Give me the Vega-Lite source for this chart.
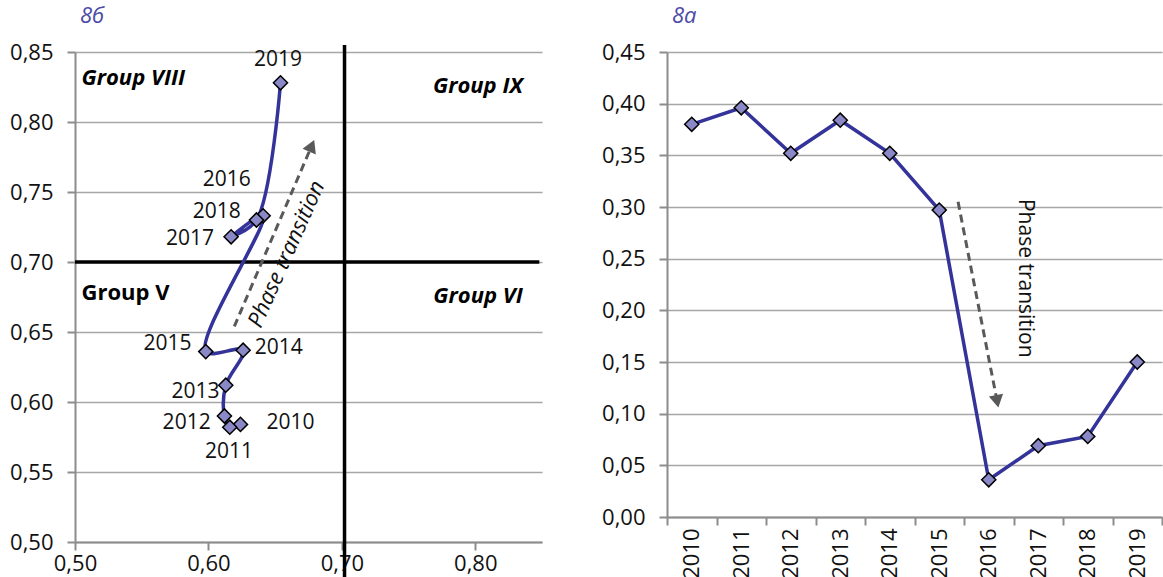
{
  "$schema": "https://vega.github.io/schema/vega-lite/v6.json",
  "background": "white",
  "padding": {"left": 9, "top": 5, "right": 0, "bottom": 0},
  "config": {
    "font": "Open Sans",
    "view": {"stroke": null},
    "axis": {
      "labelFont": "Open Sans", "labelFontSize": 22, "labelColor": "#111111",
      "domainColor": "#8c8c8c", "domainWidth": 2,
      "tickColor": "#8c8c8c", "tickWidth": 2, "tickSize": 8,
      "gridColor": "#a6a6a6", "gridWidth": 1.5,
      "title": null, "labelOverlap": false, "labelFlush": false
    },
    "title": {"font": "Open Sans", "fontSize": 22, "fontStyle": "italic", "fontWeight": "normal", "color": "#4b4ba6", "anchor": "start", "frame": "group"},
    "concat": {"spacing": 59}
  },
  "datasets": {
    "scatter": [
      {"year": 2010, "x": 0.624, "y": 0.584},
      {"year": 2011, "x": 0.616, "y": 0.582},
      {"year": 2012, "x": 0.612, "y": 0.590},
      {"year": 2013, "x": 0.613, "y": 0.612},
      {"year": 2014, "x": 0.626, "y": 0.637},
      {"year": 2015, "x": 0.598, "y": 0.636},
      {"year": 2016, "x": 0.641, "y": 0.733},
      {"year": 2017, "x": 0.617, "y": 0.718},
      {"year": 2018, "x": 0.636, "y": 0.730},
      {"year": 2019, "x": 0.654, "y": 0.828}
    ],
    "series": [
      {"year": 2010, "v": 0.380},
      {"year": 2011, "v": 0.396},
      {"year": 2012, "v": 0.352},
      {"year": 2013, "v": 0.384},
      {"year": 2014, "v": 0.352},
      {"year": 2015, "v": 0.297},
      {"year": 2016, "v": 0.036},
      {"year": 2017, "v": 0.069},
      {"year": 2018, "v": 0.078},
      {"year": 2019, "v": 0.150}
    ]
  },
  "hconcat": [
    {
      "width": 467,
      "height": 490,
      "title": {"text": "8б", "offset": 13, "dx": 5},
      "encoding": {
        "x": {"field": "x", "type": "quantitative",
          "scale": {"domain": [0.5, 0.85], "nice": false, "zero": false},
          "axis": {"values": [0.5, 0.6, 0.7, 0.8], "grid": false, "labelPadding": 3,
            "labelExpr": "replace(format(datum.value, '.2f'), '.', ',')"}},
        "y": {"field": "y", "type": "quantitative",
          "scale": {"domain": [0.5, 0.85], "nice": false, "zero": false},
          "axis": {"values": [0.5, 0.55, 0.6, 0.65, 0.7, 0.75, 0.8, 0.85], "grid": true, "labelPadding": 14,
            "labelExpr": "replace(format(datum.value, '.2f'), '.', ',')"}}
      },
      "layer": [
        {
          "data": {"values": [{"x": 0.5, "x2": 0.848, "y": 0.7}]},
          "mark": {"type": "rule", "color": "black", "strokeWidth": 3.5},
          "encoding": {"x2": {"field": "x2"}}
        },
        {
          "data": {"values": [{"x": 0.702, "y": 0.855, "y2": 0.46}]},
          "mark": {"type": "rule", "color": "black", "strokeWidth": 3.5},
          "encoding": {"y2": {"field": "y2"}}
        },
        {
          "data": {"values": [{"x": 0.6194, "y": 0.654, "x2": 0.6774, "y2": 0.783}]},
          "mark": {"type": "rule", "color": "#595959", "strokeWidth": 3, "strokeDash": [8, 5]},
          "encoding": {"x2": {"field": "x2"}, "y2": {"field": "y2"}}
        },
        {
          "data": {"values": [{"x": 0.6774, "y": 0.783}]},
          "mark": {"type": "point", "shape": "triangle-up", "filled": true, "color": "#595959", "size": 210, "angle": 23.6, "opacity": 1}
        },
        {
          "data": {"values": [{"x": 0.6585, "y": 0.7057, "t": "Phase transition"}]},
          "mark": {"type": "text", "angle": -66, "fontSize": 22, "fontStyle": "italic", "color": "#111111", "align": "center", "baseline": "middle"},
          "encoding": {"text": {"field": "t"}}
        },
        {
          "data": {"name": "scatter"},
          "mark": {"type": "line", "interpolate": "catmull-rom", "color": "#333399", "strokeWidth": 3.5},
          "encoding": {"order": {"field": "year", "type": "quantitative"}}
        },
        {
          "data": {"name": "scatter"},
          "mark": {"type": "point", "shape": "diamond", "filled": true, "fill": "#8b88c8", "stroke": "black", "strokeWidth": 1.5, "size": 200, "opacity": 1}
        },
        {"data": {"name": "scatter"}, "transform": [{"filter": "datum.year == 2019"}],
          "mark": {"type": "text", "fontSize": 21, "color": "#111111", "align": "center", "baseline": "middle", "dx": -2.5, "dy": -23},
          "encoding": {"text": {"field": "year", "type": "nominal"}}},
        {"data": {"name": "scatter"}, "transform": [{"filter": "datum.year == 2016"}],
          "mark": {"type": "text", "fontSize": 21, "color": "#111111", "align": "center", "baseline": "middle", "dx": -36.4, "dy": -35.7},
          "encoding": {"text": {"field": "year", "type": "nominal"}}},
        {"data": {"name": "scatter"}, "transform": [{"filter": "datum.year == 2018"}],
          "mark": {"type": "text", "fontSize": 21, "color": "#111111", "align": "center", "baseline": "middle", "dx": -39.6, "dy": -7.9},
          "encoding": {"text": {"field": "year", "type": "nominal"}}},
        {"data": {"name": "scatter"}, "transform": [{"filter": "datum.year == 2017"}],
          "mark": {"type": "text", "fontSize": 21, "color": "#111111", "align": "center", "baseline": "middle", "dx": -41, "dy": 1.8},
          "encoding": {"text": {"field": "year", "type": "nominal"}}},
        {"data": {"name": "scatter"}, "transform": [{"filter": "datum.year == 2015"}],
          "mark": {"type": "text", "fontSize": 21, "color": "#111111", "align": "center", "baseline": "middle", "dx": -38.2, "dy": -7.9},
          "encoding": {"text": {"field": "year", "type": "nominal"}}},
        {"data": {"name": "scatter"}, "transform": [{"filter": "datum.year == 2014"}],
          "mark": {"type": "text", "fontSize": 21, "color": "#111111", "align": "center", "baseline": "middle", "dx": 35.7, "dy": -2.5},
          "encoding": {"text": {"field": "year", "type": "nominal"}}},
        {"data": {"name": "scatter"}, "transform": [{"filter": "datum.year == 2013"}],
          "mark": {"type": "text", "fontSize": 21, "color": "#111111", "align": "center", "baseline": "middle", "dx": -30.3, "dy": 6.8},
          "encoding": {"text": {"field": "year", "type": "nominal"}}},
        {"data": {"name": "scatter"}, "transform": [{"filter": "datum.year == 2012"}],
          "mark": {"type": "text", "fontSize": 21, "color": "#111111", "align": "center", "baseline": "middle", "dx": -37.8, "dy": 6.5},
          "encoding": {"text": {"field": "year", "type": "nominal"}}},
        {"data": {"name": "scatter"}, "transform": [{"filter": "datum.year == 2011"}],
          "mark": {"type": "text", "fontSize": 21, "color": "#111111", "align": "center", "baseline": "middle", "dx": -0.7, "dy": 24.5},
          "encoding": {"text": {"field": "year", "type": "nominal"}}},
        {"data": {"name": "scatter"}, "transform": [{"filter": "datum.year == 2010"}],
          "mark": {"type": "text", "fontSize": 21, "color": "#111111", "align": "center", "baseline": "middle", "dx": 50, "dy": -1.4},
          "encoding": {"text": {"field": "year", "type": "nominal"}}},
        {
          "data": {"values": [{"x": 0.5049, "y": 0.8311, "t": "Group VIII"}]},
          "mark": {"type": "text", "fontSize": 22, "fontWeight": "bold", "fontStyle": "italic", "color": "#000000", "align": "left", "baseline": "middle"},
          "encoding": {"text": {"field": "t"}}
        },
        {
          "data": {"values": [{"x": 0.5049, "y": 0.6782, "t": "Group V"}]},
          "mark": {"type": "text", "fontSize": 22, "fontWeight": "bold", "color": "#000000", "align": "left", "baseline": "middle"},
          "encoding": {"text": {"field": "t"}}
        },
        {
          "data": {"values": [{"x": 0.8356, "y": 0.8259, "t": "Group IX"}, {"x": 0.8356, "y": 0.6756, "t": "Group VI"}]},
          "mark": {"type": "text", "fontSize": 22, "fontWeight": "bold", "fontStyle": "italic", "color": "#000000", "align": "right", "baseline": "middle"},
          "encoding": {"text": {"field": "t"}}
        }
      ]
    },
    {
      "width": 495,
      "height": 465,
      "title": {"text": "8а", "offset": 13, "dx": 5},
      "encoding": {
        "x": {"field": "year", "type": "quantitative",
          "scale": {"domain": [2009.5, 2019.5], "nice": false, "zero": false},
          "axis": {
            "values": [2009.5, 2010, 2010.5, 2011, 2011.5, 2012, 2012.5, 2013, 2013.5, 2014, 2014.5, 2015, 2015.5, 2016, 2016.5, 2017, 2017.5, 2018, 2018.5, 2019, 2019.5],
            "grid": false, "labelAngle": -90, "labelAlign": "right", "labelBaseline": "middle", "labelPadding": 3,
            "labelExpr": "datum.value % 1 == 0 ? format(datum.value, 'd') : ''",
            "tickOpacity": {"condition": {"test": "datum.value % 1 == 0", "value": 0}, "value": 1}
          }},
        "y": {"field": "v", "type": "quantitative",
          "scale": {"domain": [0, 0.45], "nice": false, "zero": false},
          "axis": {"values": [0, 0.05, 0.1, 0.15, 0.2, 0.25, 0.3, 0.35, 0.4, 0.45], "grid": true, "labelPadding": 14,
            "labelExpr": "replace(format(datum.value, '.2f'), '.', ',')"}}
      },
      "layer": [
        {
          "data": {"values": [{"year": 2015.38, "v": 0.305, "year2": 2016.17, "v2": 0.112}]},
          "mark": {"type": "rule", "color": "#595959", "strokeWidth": 3, "strokeDash": [8, 5]},
          "encoding": {"x2": {"field": "year2"}, "y2": {"field": "v2"}}
        },
        {
          "data": {"values": [{"year": 2016.17, "v": 0.112}]},
          "mark": {"type": "point", "shape": "triangle-down", "filled": true, "color": "#595959", "size": 210, "angle": -11, "opacity": 1}
        },
        {
          "data": {"values": [{"year": 2016.74, "v": 0.231, "t": "Phase transition"}]},
          "mark": {"type": "text", "angle": 90, "fontSize": 21, "color": "#111111", "align": "center", "baseline": "middle"},
          "encoding": {"text": {"field": "t"}}
        },
        {
          "data": {"name": "series"},
          "mark": {"type": "line", "color": "#333399", "strokeWidth": 3.5},
          "encoding": {"order": {"field": "year", "type": "quantitative"}}
        },
        {
          "data": {"name": "series"},
          "mark": {"type": "point", "shape": "diamond", "filled": true, "fill": "#8b88c8", "stroke": "black", "strokeWidth": 1.5, "size": 200, "opacity": 1}
        }
      ]
    }
  ]
}
